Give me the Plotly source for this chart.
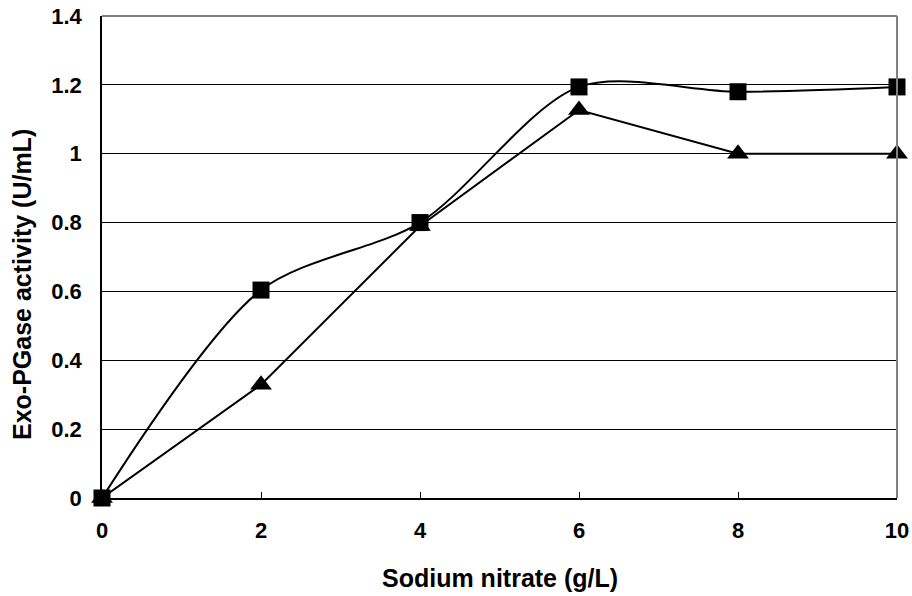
import plotly.graph_objects as go

x_vals = [0, 2, 4, 6, 8, 10]
square_vals = [0, 0.604, 0.80, 1.194, 1.18, 1.194]
triangle_vals = [0, 0.329, 0.79, 1.127, 1.0, 1.0]
x_ticks = [0, 2, 4, 6, 8, 10]
y_ticks = [0, 0.2, 0.4, 0.6, 0.8, 1.0, 1.2, 1.4]
y_tick_text = ["0", "0.2", "0.4", "0.6", "0.8", "1", "1.2", "1.4"]
x_title = "Sodium nitrate (g/L)"
y_title = "Exo-PGase activity (U/mL)"

FAM = "Liberation Sans, Arial, sans-serif"

fig = go.Figure()
fig.add_trace(go.Scatter(
    x=x_vals, y=triangle_vals, mode="lines+markers",
    line=dict(color="black", width=2),
    marker=dict(symbol="triangle-up", size=19, color="black"),
    showlegend=False, cliponaxis=False, hoverinfo="skip"))
fig.add_trace(go.Scatter(
    x=x_vals, y=square_vals, mode="lines+markers",
    line=dict(color="black", width=2, shape="spline", smoothing=0.85),
    marker=dict(symbol="square", size=17, color="black"),
    showlegend=False, cliponaxis=False, hoverinfo="skip"))

tickfont = dict(family=FAM, size=22, color="black", weight="bold")
titlefont = dict(family=FAM, size=25, color="black", weight="bold")

fig.update_layout(
    width=912, height=596,
    margin=dict(l=102, r=15, t=16, b=98, autoexpand=False),
    paper_bgcolor="white", plot_bgcolor="white",
    xaxis=dict(range=[0, 10], tickvals=x_ticks, ticks="inside", ticklen=6,
               tickcolor="black", linecolor="black", linewidth=2, showline=True,
               showgrid=False, zeroline=False, automargin=False,
               tickfont=tickfont, ticklabelstandoff=12, ticklabeloverflow="allow"),
    yaxis=dict(range=[0, 1.4], tickvals=y_ticks, ticktext=y_tick_text,
               ticks="", linecolor="black", linewidth=1.5, showline=True,
               showgrid=True, gridcolor="black", gridwidth=1, zeroline=False,
               automargin=False, tickfont=tickfont, ticklabelstandoff=14,
               ticklabeloverflow="allow"),
    shapes=[
        dict(type="line", xref="paper", yref="paper", x0=0, x1=1, y0=1, y1=1,
             line=dict(color="#808080", width=2)),
        dict(type="line", xref="paper", yref="paper", x0=1, x1=1, y0=0, y1=1,
             line=dict(color="#808080", width=2)),
    ],
    annotations=[
        dict(text=x_title, xref="paper", yref="paper", x=0.5, y=0,
             xanchor="center", yanchor="middle", yshift=-80, showarrow=False,
             font=titlefont),
        dict(text=y_title, xref="paper", yref="paper", x=0, y=0.5,
             xanchor="center", yanchor="middle", xshift=-80, yshift=-28,
             textangle=-90, showarrow=False, font=titlefont),
    ],
)

# remove the default page margin so the figure fills the window exactly
fig.write_html("out.html",
               config={"displayModeBar": False},
               post_script="document.body.style.margin='0';"
                           "document.body.style.overflow='hidden';")
